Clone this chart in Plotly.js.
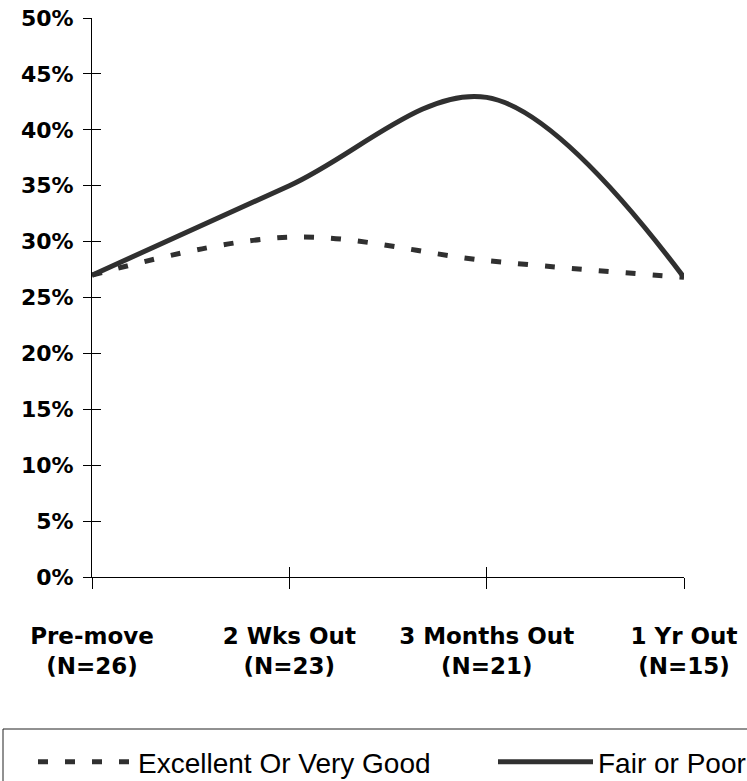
<!DOCTYPE html>
<html><head><meta charset="utf-8">
<script src="https://cdn.plot.ly/plotly-3.0.1.min.js"></script>
<style>html,body{margin:0;padding:0;overflow:hidden;background:#fff;width:747px;height:781px}#chart{width:1000px;height:781px}</style>
</head><body><div id="chart"></div>
<script>
const categories = ["Pre-move<br>(N=26)", "2 Wks Out<br>(N=23)", "3 Months Out<br>(N=21)", "1 Yr Out<br>(N=15)"];
const excellentOrVeryGood = [27.0, 30.4, 28.3, 26.8];
const fairOrPoor = [27.0, 35.0, 42.9, 26.8];
const seriesNames = ["Excellent Or Very Good", "Fair or Poor"];
const yTickValues = [0, 5, 10, 15, 20, 25, 30, 35, 40, 45, 50];
const yTickLabels = yTickValues.map(v => v + '%');

const lineColor = '#303030';
const yTickFont = {family: 'DejaVu Sans', size: 22, color: '#000', weight: 'bold'};
const xTickFont = {family: 'DejaVu Sans', size: 23, color: '#000', weight: 'bold'};

const traces = [
  {x: categories, y: excellentOrVeryGood, name: seriesNames[0], type: 'scatter', mode: 'lines',
   xaxis: 'x', yaxis: 'y',
   line: {color: lineColor, width: 5, dash: '10px,17px', shape: 'spline', smoothing: 1}},
  {x: categories, y: fairOrPoor, name: seriesNames[1], type: 'scatter', mode: 'lines',
   xaxis: 'x2', yaxis: 'y2',
   line: {color: lineColor, width: 5, shape: 'spline', smoothing: 1}}
];

const W = 1000, H = 781;
const mL = 92, mR = 8, mT = 18, mB = 204;
const gw = W - mL - mR, gh = H - mT - mB;
const xDomainEnd = 592 / gw;
const yPix = p => -(p - (H - mB)) / gh;   // pixel row below plot -> paper y
const xPix = p => (p - mL) / gw;          // pixel column -> paper x

const layout = {
  width: W, height: H,
  margin: {l: mL, r: mR, t: mT, b: mB, autoexpand: false},
  paper_bgcolor: '#fff', plot_bgcolor: '#fff',
  showlegend: true,
  xaxis: {type: 'category', domain: [0, xDomainEnd], range: [0, 3],
    showline: true, linecolor: '#000', linewidth: 1,
    ticks: 'outside', ticklen: 11, tickcolor: '#000', tickwidth: 1,
    tickfont: xTickFont, ticklabelstandoff: 27, automargin: false,
    showgrid: false, zeroline: false, fixedrange: true},
  yaxis: {range: [0, 50], tickmode: 'array', tickvals: yTickValues, ticktext: yTickLabels,
    showline: true, linecolor: '#000', linewidth: 1,
    ticks: 'outside', ticklen: 8, tickcolor: '#000', tickwidth: 1,
    tickfont: yTickFont, ticklabelstandoff: 5, automargin: false,
    showgrid: false, zeroline: false, fixedrange: true},
  xaxis2: {type: 'category', overlaying: 'x', anchor: 'y2', range: [0, 3],
    showline: false, ticks: 'inside', ticklen: 10, tickcolor: '#000', tickwidth: 1,
    showticklabels: false, showgrid: false, zeroline: false, fixedrange: true},
  yaxis2: {overlaying: 'y', anchor: 'x2', side: 'left', range: [0, 50], tickmode: 'array', tickvals: yTickValues,
    showline: false, ticks: 'inside', ticklen: 9, tickcolor: '#000', tickwidth: 1,
    showticklabels: false, showgrid: false, zeroline: false, fixedrange: true},
  legend: {orientation: 'h', xref: 'paper', yref: 'paper',
    x: xPix(33), y: yPix(737), xanchor: 'left', yanchor: 'top',
    font: {family: 'Liberation Sans', size: 28, color: '#000'},
    itemwidth: 95, entrywidth: 350, entrywidthmode: 'pixels',
    bgcolor: 'rgba(0,0,0,0)', borderwidth: 0, traceorder: 'normal'},
  shapes: [
    {type: 'rect', xref: 'paper', yref: 'paper',
     x0: xPix(3), x1: 1.2, y0: -0.6, y1: yPix(729),
     line: {color: '#222', width: 1}, fillcolor: 'rgba(0,0,0,0)', layer: 'below'}
  ]
};

Plotly.newPlot('chart', traces, layout, {staticPlot: true, displayModeBar: false});
</script></body></html>
